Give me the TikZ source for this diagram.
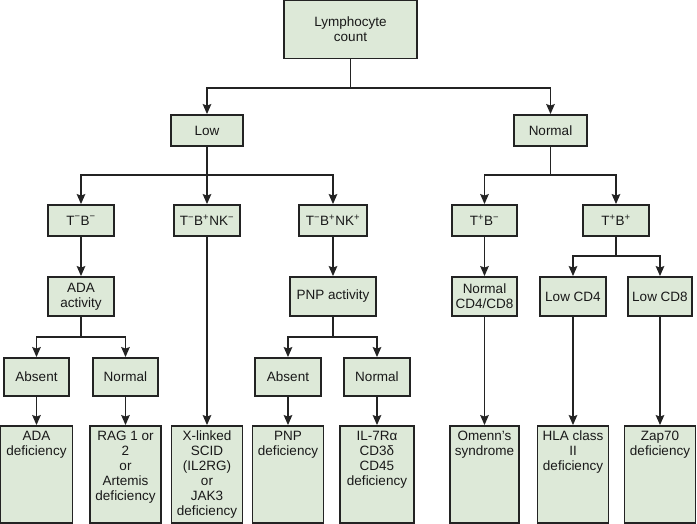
\documentclass[tikz,border=0pt]{standalone}
\usepackage{fontspec}
\setmainfont{Liberation Sans}
\usetikzlibrary{arrows.meta}
\definecolor{boxfill}{RGB}{221,233,216}
\definecolor{boxline}{RGB}{35,35,35}
\newcommand\leafbox[2]{\parbox[c][97pt][t]{#1pt}{\centering\vspace*{5pt}#2}}
\newcommand\supm{\textsuperscript{−}}
\newcommand\supp{\textsuperscript{+}}
\begin{document}
\begin{tikzpicture}[x=1pt,y=-1pt,
  box/.style={draw=boxline, line width=1.8pt, fill=boxfill, inner sep=1pt,
    align=center, font=\fontsize{13.5}{15}\selectfont, text=black!90},
  leaf/.style={box, inner sep=0pt},
  arr/.style={draw=boxline, line width=1.8pt, -{Stealth[length=10pt,width=8.5pt,inset=1.5pt]}},
  ln/.style={draw=boxline, line width=1.8pt}]
\useasboundingbox (0,0) rectangle (697,524);
% level 1
\node[box, minimum width=133pt, minimum height=58pt] (lymph) at (350.5,29.5) {Lymphocyte\\count};
% level 2
\node[box, minimum width=72pt, minimum height=31pt] (low) at (207,130.5) {Low};
\node[box, minimum width=73pt, minimum height=31pt] (normal) at (550.5,130.5) {Normal};
% level 3
\node[box, minimum width=66pt, minimum height=31pt] (tbm) at (81,220.5) {T\supm B\supm};
\node[box, minimum width=66pt, minimum height=31pt] (tbnkm) at (207,220.5) {T\supm B\supp NK\supm};
\node[box, minimum width=68pt, minimum height=31pt] (tbnkp) at (333,220.5) {T\supm B\supp NK\supp};
\node[box, minimum width=65pt, minimum height=31pt] (tpbm) at (484.5,220.5) {T\supp B\supm};
\node[box, minimum width=66pt, minimum height=31pt] (tpbp) at (616,220.5) {T\supp B\supp};
% level 4
\node[box, minimum width=66pt, minimum height=39pt] (ada) at (81,296.5) {ADA\\activity};
\node[box, minimum width=86pt, minimum height=39pt] (pnp) at (333,296.5) {PNP activity};
\node[box, minimum width=65pt, minimum height=39pt] (normcd) at (484.5,296.5) {Normal\\CD4/CD8};
\node[box, minimum width=66pt, minimum height=39pt] (lowcd4) at (573,296.5) {Low CD4};
\node[box, minimum width=64pt, minimum height=39pt] (lowcd8) at (660,296.5) {Low CD8};
% level 5
\node[box, minimum width=65pt, minimum height=38pt] (absa) at (36.5,377) {Absent};
\node[box, minimum width=65pt, minimum height=38pt] (norma) at (125.5,377) {Normal};
\node[box, minimum width=66pt, minimum height=38pt] (absb) at (288,377) {Absent};
\node[box, minimum width=66pt, minimum height=38pt] (normb) at (377,377) {Normal};
% level 6
\node[leaf] (adadef) at (36.5,474.5) {\leafbox{72}{ADA\\deficiency}};
\node[leaf] (rag) at (125.5,474.5) {\leafbox{71}{RAG 1 or\\2\\or\\Artemis\\deficiency}};
\node[leaf] (xlink) at (207,474.5) {\leafbox{71}{X-linked\\SCID\\(IL2RG)\\or\\JAK3\\deficiency}};
\node[leaf] (pnpdef) at (288,474.5) {\leafbox{71}{PNP\\deficiency}};
\node[leaf] (il7) at (377,474.5) {\leafbox{74}{IL-7Rα\\CD3δ\\CD45\\deficiency}};
\node[leaf] (omenn) at (484.5,474.5) {\leafbox{69}{Omenn’s\\syndrome}};
\node[leaf] (hla) at (573,474.5) {\leafbox{71}{HLA class\\II\\deficiency}};
\node[leaf] (zap) at (660,474.5) {\leafbox{71}{Zap70\\deficiency}};
% split points
\coordinate (s1) at (350.5,88);
\coordinate (s2) at (207,175);
\coordinate (s3) at (550.5,175);
\coordinate (s4) at (616,256);
\coordinate (s5) at (81,337);
\coordinate (s6) at (333,337);
% connectors
\draw[ln] (lymph.south) -- (s1);
\draw[arr] (s1) -| (low.north);
\draw[arr] (s1) -| (normal.north);
\draw[ln] (low.south) -- (s2);
\draw[arr] (s2) -| (tbm.north);
\draw[arr] (s2) -- (tbnkm.north);
\draw[arr] (s2) -| (tbnkp.north);
\draw[ln] (normal.south) -- (s3);
\draw[arr] (s3) -| (tpbm.north);
\draw[arr] (s3) -| (tpbp.north);
\draw[arr] (tbm.south) -- (ada.north);
\draw[arr] (tbnkm.south) -- (xlink.north);
\draw[arr] (tbnkp.south) -- (pnp.north);
\draw[arr] (tpbm.south) -- (normcd.north);
\draw[ln] (tpbp.south) -- (s4);
\draw[arr] (s4) -| (lowcd4.north);
\draw[arr] (s4) -| (lowcd8.north);
\draw[ln] (ada.south) -- (s5);
\draw[arr] (s5) -| (absa.north);
\draw[arr] (s5) -| (norma.north);
\draw[ln] (pnp.south) -- (s6);
\draw[arr] (s6) -| (absb.north);
\draw[arr] (s6) -| (normb.north);
\draw[arr] (absa.south) -- (adadef.north);
\draw[arr] (norma.south) -- (rag.north);
\draw[arr] (absb.south) -- (pnpdef.north);
\draw[arr] (normb.south) -- (il7.north);
\draw[arr] (normcd.south) -- (omenn.north);
\draw[arr] (lowcd4.south) -- (hla.north);
\draw[arr] (lowcd8.south) -- (zap.north);
\end{tikzpicture}
\end{document}
